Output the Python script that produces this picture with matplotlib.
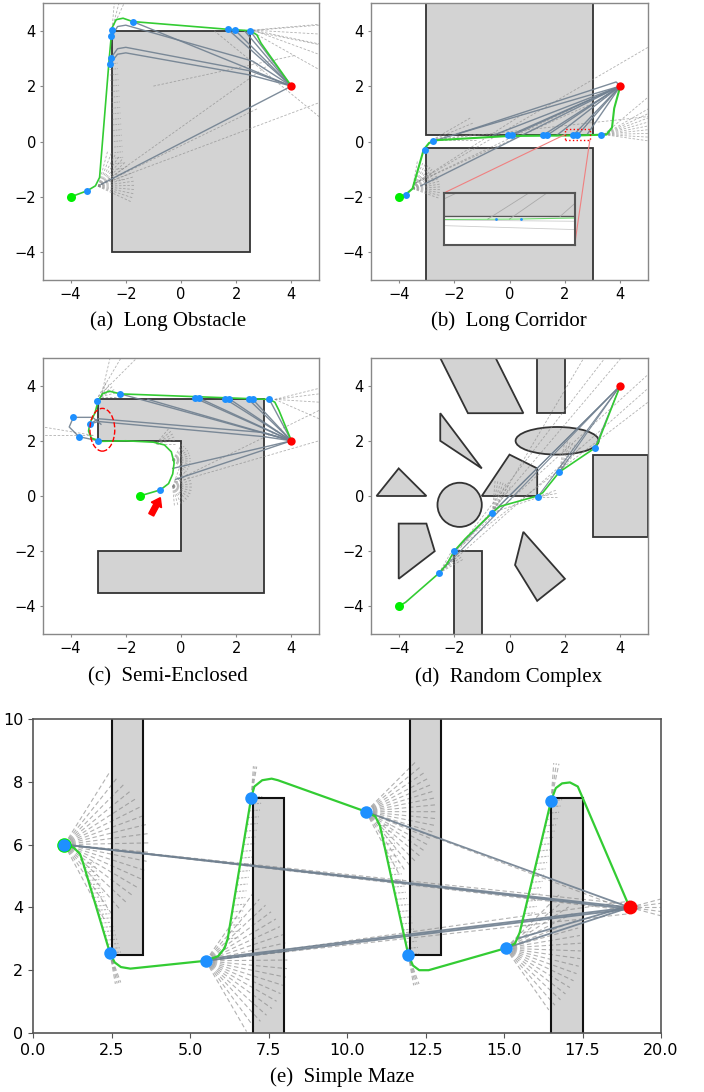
import numpy as np
import matplotlib
matplotlib.use("Agg")
import matplotlib.pyplot as plt
from matplotlib.patches import Polygon, Circle, Ellipse, Rectangle, FancyArrow

# ---------------- data ----------------
# (a) Long Obstacle
obst_a = [[(-2.5, -4), (2.5, -4), (2.5, 4), (-2.5, 4)]]
start_a = (-4, -2)
goal_a = (4, 2)
wp_a_x = [-3.4, -2.57, -2.55, -2.52, -2.5, -1.75, 1.7, 1.95, 2.5]
wp_a_y = [-1.78, 2.8, 3.0, 3.8, 4.02, 4.33, 4.05, 4.03, 4.0]
path_a_x = [-4, -3.4, -3.1, -2.95, -2.6, -2.5, -2.35, -2.1, -1.75, 1.7, 2.5, 2.75, 2.9, 4]
path_a_y = [-2, -1.78, -1.6, -1.3, 3.0, 4.1, 4.4, 4.45, 4.33, 4.05, 4.0, 3.85, 3.55, 2]
plans_a = [
    [(-1.75, 4.33), (4, 2)], [(1.7, 4.05), (4, 2)], [(1.95, 4.03), (4, 2)],
    [(2.5, 4.0), (4, 2)], [(2.3, 4.0), (4, 2)],
    [(-2.5, 3.8), (-2.3, 4.15), (-2.0, 4.2), (2.6, 2.9), (4, 2)],
    [(-2.55, 3.0), (-2.3, 3.35), (-2.0, 3.4), (2.5, 2.55), (4, 2)],
    [(-2.57, 2.8), (-2.3, 3.15), (-2.0, 3.2), (2.5, 2.4), (4, 2)],
    [(-2.9, -1.55), (4, 2)],
]
fans_a = [(-3.0, -1.62, 75, -25, 16, 1.3), (-2.5, 4.05, 85, 65, 3, 1.2),
          (2.6, 4.02, 5, -20, 4, 2.5)]
rays_a = [(-2.9, -1.55, 3.5, 3.0), (-2.9, -1.55, 5, 1.4), (-2.9, -1.55, 2.8, 1.2),
          (1.2, 4.0, 5, 0.9), (2.5, 4.0, 5, 4.2), (2.5, 4.0, 5, 3.5), (2.5, 4.0, 5, 2.6),
          (-1.0, 2.0, 4.1, 3.1)]
walls_a = [(-2.6, 2.8, -2.35, -1.4)]

# (b) Long Corridor
obst_b = [[(-3, 0.25), (3, 0.25), (3, 5.2), (-3, 5.2)], [(-3, -5.2), (3, -5.2), (3, -0.25), (-3, -0.25)]]
start_b = (-4, -2)
goal_b = (4, 2)
wp_b_x = [-3.75, -3.05, -2.75, -0.05, 0.1, 1.2, 1.35, 2.3, 2.45, 3.3]
wp_b_y = [-1.92, -0.3, 0.02, 0.22, 0.22, 0.22, 0.22, 0.22, 0.22, 0.22]
path_b_x = [-4, -3.75, -3.5, -3.3, -3.1, -2.9, -2.6, 0.0, 2.5, 3.5, 3.7, 3.78, 4]
path_b_y = [-2, -1.92, -1.7, -1.0, -0.3, -0.05, 0.05, 0.2, 0.22, 0.25, 0.5, 1.2, 2]
plans_b = [[(-2.75, 0.02), (4, 2)], [(-1.8, 0.3), (3.85, 2.15), (4, 2)], [(0.0, 0.22), (4, 2)],
           [(0.1, 0.22), (4, 2)], [(1.2, 0.22), (4, 2)], [(1.35, 0.22), (4, 2)],
           [(2.3, 0.22), (4, 2)], [(2.45, 0.22), (4, 2)], [(2.8, 0.25), (4, 2)],
           [(1.7, 0.22), (4, 2)], [(-3.2, -1.6), (4, 2)], [(-0.6, 0.22), (4, 2)]]
fans_b = [(-3.5, -1.7, 80, -20, 18, 1.0), (-2.8, 0.05, 30, 0, 5, 1.6), (3.4, 0.25, 30, -8, 9, 2.0)]
rays_b = [(-3.4, -1.5, 5, 3.4), (-3.4, -1.5, 3.5, 1.6), (-3.4, -1.5, 2.3, 1.2),
          (-3.4, -1.5, 0.5, 1.0), (3.4, 0.25, 5, 1.6), (-2.8, 0.05, 5, 0.9)]
zoom_box_b = (2.0, 0.05, 0.9, 0.4)
inset_b = (-2.35, -3.75, 4.7, 1.9)

# (c) Semi-Enclosed
obst_c = [[(-3, 3.5), (3, 3.5), (3, -3.5), (-3, -3.5), (-3, -2), (0, -2), (0, 2), (-3, 2)]]
start_c = (-1.5, 0.0)
goal_c = (4, 2)
wp_c_x = [-0.75, -3.0, -3.05, -3.3, -3.9, -3.7, -2.2, 0.5, 0.65, 1.6, 1.75, 2.45, 2.6, 3.2]
wp_c_y = [0.22, 1.98, 3.45, 2.6, 2.85, 2.15, 3.7, 3.55, 3.55, 3.52, 3.52, 3.5, 3.5, 3.5]
path_c_x = [-1.5, -0.75, -0.45, -0.3, -0.25, -0.35, -0.6, -1.0, -2.0, -2.9, -3.25, -3.35, -3.3,
            -3.12, -3.0, -2.85, -2.6, -2.2, 0.5, 3.2, 3.4, 3.55, 4]
path_c_y = [0.0, 0.22, 0.45, 0.8, 1.2, 1.6, 1.85, 1.95, 2.0, 1.98, 2.1, 2.35, 2.65,
            3.0, 3.45, 3.7, 3.8, 3.7, 3.6, 3.5, 3.4, 3.1, 2]
plans_c = [[(-2.2, 3.7), (4, 2)], [(0.5, 3.55), (4, 2)], [(0.65, 3.55), (4, 2)],
           [(1.6, 3.52), (4, 2)], [(1.75, 3.52), (4, 2)], [(2.45, 3.5), (4, 2)],
           [(2.6, 3.5), (4, 2)], [(3.2, 3.5), (4, 2)], [(-1.2, 3.5), (4, 2)],
           [(-3.3, 2.6), (-3.0, 2.8), (3.0, 2.3), (4, 2)], [(-3.3, 2.6), (-3.0, 2.7), (3.0, 2.15), (4, 2)],
           [(-3.9, 2.85), (-4.05, 2.5), (-3.7, 2.15), (-3.0, 2.0)],
           [(-3.9, 2.85), (-3.2, 2.85), (-2.9, 2.6)],
           [(-0.2, 0.6), (4, 2)], [(-0.3, 1.0), (4, 2)]]
fans_c = [(-0.3, 0.35, 70, -85, 16, 0.75), (-0.3, 1.3, 60, -40, 12, 0.65),
          (-0.9, 1.9, 50, 0, 6, 0.7), (-2.9, 3.6, 70, 0, 6, 0.6)]
rays_c = [(-3.0, 3.6, -2.0, 5.3), (-3.0, 3.6, -1.3, 5.3), (-2.9, 3.6, -2.5, 5.3),
          (-3.2, 2.2, -5.0, 2.5), (-3.2, 2.2, -5.0, 2.2), (3.4, 3.5, 5.0, 3.9),
          (3.4, 3.5, 5.0, 3.7), (3.4, 3.5, 5.0, 3.4), (3.4, 3.5, 5.0, 2.8),
          (-0.2, 0.5, 5.0, 2.0), (-0.1, 0.6, 5.0, 3.1)]
ellipse_c = (-2.85, 2.4, 0.9, 1.55)
arrow_c = (-1.08, -0.68, 0.33, 0.62)

# (d) Random Complex
obst_d = [
    [(-2.5, 5), (-0.5, 5), (0.5, 3), (-1.5, 3)],
    [(1, 3), (2, 3), (2, 5), (1, 5)],
    [(-2.5, 3), (-2.5, 2), (-1, 1)],
    [(-1, 0), (0, 1.5), (1, 1), (1, 0)],
    [(-4.8, 0), (-4, 1), (-3, 0)],
    [(-4, -1), (-3, -1), (-2.7, -2), (-4, -3)],
    [(-2, -2), (-1, -2), (-1, -5.2), (-2, -5.2)],
    [(0.5, -1.3), (0.2, -2.5), (1, -3.8), (2, -3)],
    [(3, -1.5), (5, -1.5), (5, 1.5), (3, 1.5)],
]
circle_d = (-1.8, -0.32, 0.8)
ellipse_d = (1.72, 2.0, 3.0, 1.0)
start_d = (-4, -4)
goal_d = (4, 4)
wp_d_x = [-2.55, -2.0, -0.62, 1.02, 1.8, 3.07]
wp_d_y = [-2.8, -2.0, -0.6, -0.03, 0.87, 1.73]
path_d_x = [-4, -3.75, -2.55, -2.25, -2.0, -1.6, -0.62, -0.35, 1.0, 1.2, 1.8, 3.07, 3.2, 4]
path_d_y = [-4, -3.85, -2.8, -2.45, -2.0, -1.55, -0.6, -0.38, 0.0, 0.12, 0.87, 1.73, 1.95, 4]
plans_d = [[(-2.55, -2.8), (4, 4)], [(-2.0, -2.0), (4, 4)], [(-0.62, -0.6), (4, 4)],
           [(1.02, -0.03), (4, 4)], [(1.8, 0.87), (4, 4)], [(3.07, 1.73), (4, 4)]]
fans_d = [(-2.55, -2.8, 60, 30, 6, 1.0), (-0.62, -0.6, 85, 55, 7, 1.2),
          (1.8, 0.87, 80, 50, 7, 1.2), (1.02, -0.03, 20, 0, 3, 0.7)]
rays_d = [(-2.55, -2.8, 3.6, 5.2), (-2.55, -2.8, 4.2, 5.2), (-2.0, -2.0, 5.0, 4.4),
          (-2.0, -2.0, 5.0, 3.4), (-0.62, -0.6, 2.8, 5.2), (-2.55, -2.8, 5.0, 3.9),
          (-0.62, -0.6, 1.5, 0.1)]

# (e) Simple Maze
obst_e = [[(2.5, 2.5), (3.5, 2.5), (3.5, 10.2), (2.5, 10.2)],
          [(7, -0.2), (8, -0.2), (8, 7.5), (7, 7.5)],
          [(12, 2.5), (13, 2.5), (13, 10.2), (12, 10.2)],
          [(16.5, -0.2), (17.5, -0.2), (17.5, 7.5), (16.5, 7.5)]]
start_e = (1, 6)
goal_e = (19, 4)
wp_e_x = [1.0, 2.45, 5.5, 6.95, 10.6, 11.95, 15.05, 16.5]
wp_e_y = [6.0, 2.55, 2.3, 7.5, 7.05, 2.5, 2.7, 7.4]
path_e_x = [1.0, 1.3, 1.5, 1.6, 2.45, 2.6, 2.8, 3.1, 5.5, 5.9, 6.1, 6.2, 6.95, 7.05, 7.3,
            7.6, 7.8, 10.6, 10.9, 11.05, 11.95, 12.1, 12.3, 12.6, 15.05, 15.35, 15.5,
            16.5, 16.65, 16.85, 17.1, 17.35, 17.5, 19.0]
path_e_y = [6.0, 5.9, 5.7, 5.4, 2.55, 2.25, 2.1, 2.05, 2.3, 2.45, 2.7, 3.0, 7.5, 7.85, 8.05,
            8.1, 8.05, 7.05, 6.9, 6.6, 2.5, 2.15, 2.0, 2.0, 2.7, 2.85, 3.2,
            7.4, 7.8, 7.95, 7.98, 7.85, 7.5, 4.0]
plans_e = [[(1.0, 6.0), (19, 4)], [(1.0, 6.0), (19, 3.95)], [(5.5, 2.35), (19, 4)],
           [(5.5, 2.3), (19, 3.95)], [(10.6, 7.05), (19, 4)], [(15.05, 2.7), (19, 4)],
           [(15.4, 3.0), (19, 4.05)]]
fans_e = [(1.0, 6.0, 58, -62, 20, 2.7), (5.5, 2.3, 55, -60, 20, 2.6),
          (10.6, 7.05, 45, -62, 20, 2.3), (15.05, 2.7, 45, -55, 18, 2.4),
          (2.45, 2.55, -70, -80, 4, 1.0), (11.95, 2.5, -70, -80, 4, 1.0),
          (6.95, 7.5, 80, 86, 3, 1.0), (16.5, 7.4, 78, 86, 3, 1.2),
          (19.0, 4.0, 15, -15, 5, 1.2)]
rays_e = [(1.0, 6.0, 19, 4.1), (1.0, 6.0, 19, 3.9), (5.5, 2.3, 19, 4.2),
          (5.5, 2.3, 19, 3.8), (10.6, 7.05, 19, 3.9)]
walls_e = [(1.6, 5.4, 2.45, 2.55), (6.2, 3.0, 6.95, 7.5), (11.05, 6.6, 11.95, 2.5),
           (15.5, 3.2, 16.5, 7.4)]

captions = ["(a)  Long Obstacle", "(b)  Long Corridor", "(c)  Semi-Enclosed",
            "(d)  Random Complex", "(e)  Simple Maze"]

# ---------------- style ----------------
OBST_FC = "#d3d3d3"
OBST_EC = "#333333"
GREEN = "#33cc33"
BLUE = "#1e90ff"
PLAN = "#708090"
RAY = "#888888"

W, H = 704, 1092
fig = plt.figure(figsize=(W / 100, H / 100), dpi=100)


def ax_at(l, t, r, b):
    return fig.add_axes([l / W, 1 - b / H, (r - l) / W, (b - t) / H])


def draw_common(ax, obst, start, goal, wpx, wpy, px, py, plans, fans, rays,
                ms=5, lw=1.2, rays_lw=0.6, plan_lw=1.0, walls=(), wall_len=0.3,
                start_z=5.5, dash=(0, (3, 2))):
    for poly in obst:
        ax.add_patch(Polygon(poly, closed=True, fc=OBST_FC, ec=OBST_EC, lw=1.3, zorder=1))
    for (x0, y0, a0, a1, n, L) in fans:
        for a in np.radians(np.linspace(a0, a1, n)):
            ax.plot([x0, x0 + L * np.cos(a)], [y0, y0 + L * np.sin(a)], ls=dash,
                    color=RAY, lw=rays_lw, alpha=0.65, zorder=2)
    for (x0, y0, x1, y1) in rays:
        ax.plot([x0, x1], [y0, y1], ls=dash, color=RAY, lw=rays_lw, alpha=0.65, zorder=2)
    for (x0, y0, x1, y1) in walls:
        for t in np.linspace(0, 1, 22):
            xs = x0 + t * (x1 - x0)
            ys = y0 + t * (y1 - y0)
            ax.plot([xs, xs + wall_len], [ys, ys + 0.03], ls=(0, (2, 1)), color=RAY,
                    lw=rays_lw, alpha=0.6, zorder=2)
    for pl in plans:
        xs, ys = zip(*pl)
        ax.plot(xs, ys, color=PLAN, lw=plan_lw, alpha=0.9, zorder=3)
    ax.plot(px, py, color=GREEN, lw=lw, zorder=4)
    ax.plot(*start, 'o', color="#00ee00", ms=ms + 1.5, zorder=start_z, mec='none')
    ax.plot(wpx, wpy, 'o', color=BLUE, ms=ms, zorder=5, mec='none')
    ax.plot(*goal, 'o', color="red", ms=ms + 1, zorder=6, mec='none')


def style_small(ax):
    ax.set_xlim(-5, 5)
    ax.set_ylim(-5, 5)
    ax.set_xticks([-4, -2, 0, 2, 4])
    ax.set_yticks([-4, -2, 0, 2, 4])
    ax.tick_params(labelsize=10.5, color="#888888", length=2.5, pad=2.5)
    for s in ax.spines.values():
        s.set_color("#888888")
        s.set_linewidth(1.0)


cap_font = dict(family="Liberation Serif", fontsize=15, ha="center", va="center")

# (a)
ax = ax_at(43, 3, 319, 280)
draw_common(ax, obst_a, start_a, goal_a, wp_a_x, wp_a_y, path_a_x, path_a_y, plans_a,
            fans_a, rays_a, walls=walls_a)
style_small(ax)
fig.text(168 / W, 1 - 321 / H, captions[0], **cap_font)

# (b)
ax = ax_at(371, 3, 648, 280)
draw_common(ax, obst_b, start_b, goal_b, wp_b_x, wp_b_y, path_b_x, path_b_y, plans_b,
            fans_b, rays_b, lw=1.5)
style_small(ax)
bx, by, bw, bh = zoom_box_b
ax.add_patch(Rectangle((bx, by), bw, bh, fill=False, ec="red", ls=":", lw=1.0, zorder=7))
ix, iy, iw, ih = inset_b
ax.plot([bx, ix], [by + bh / 2, iy + ih], color="#f08080", lw=0.8, zorder=7)
ax.plot([bx + bw, ix + iw], [by, iy], color="#f08080", lw=0.8, zorder=7)
ins = ax.inset_axes([ix, iy, iw, ih], transform=ax.transData, zorder=8)
ins.add_patch(Rectangle((1.5, 0.25), 2.0, 1.0, fc=OBST_FC, ec="#555555", lw=1.0))
for pl in plans_b[5:10]:
    xs, ys = zip(*pl)
    ins.plot(xs, ys, color="#aaaaaa", lw=0.6)
ins.plot([1.9, 2.9], [0.21, 0.195], color="#cccccc", lw=0.6)
ins.plot([1.9, 2.9], [0.15, 0.1], color="#cccccc", lw=0.6)
ins.plot(path_b_x, path_b_y, color=GREEN, lw=0.8, alpha=0.7)
ins.plot([2.36, 2.53], [0.22, 0.22], 'o', color=BLUE, ms=2, mec='none')
ins.set_xlim(2.0, 2.9)
ins.set_ylim(-0.08, 0.52)
ins.set_xticks([])
ins.set_yticks([])
for s in ins.spines.values():
    s.set_color("#555555")
    s.set_linewidth(1.5)
fig.text(509 / W, 1 - 321 / H, captions[1], **cap_font)

# (c)
ax = ax_at(43, 358, 319, 634)
draw_common(ax, obst_c, start_c, goal_c, wp_c_x, wp_c_y, path_c_x, path_c_y, plans_c,
            fans_c, rays_c)
ex, ey, ew, eh = ellipse_c
ax.add_patch(Ellipse((ex, ey), ew, eh, fill=False, ec="red", ls="--", lw=1.0, zorder=7))
axx, axy, adx, ady = arrow_c
ax.add_patch(FancyArrow(axx, axy, adx, ady, width=0.2, head_width=0.42, head_length=0.3,
                        color="red", zorder=7, length_includes_head=True))
style_small(ax)
fig.text(168 / W, 1 - 677 / H, captions[2], **cap_font)

# (d)
ax = ax_at(371, 358, 648, 634)
cx, cy, cr = circle_d
ax.add_patch(Circle((cx, cy), cr, fc=OBST_FC, ec=OBST_EC, lw=1.3, zorder=1))
ex, ey, ew, eh = ellipse_d
ax.add_patch(Ellipse((ex, ey), ew, eh, fc=OBST_FC, ec=OBST_EC, lw=1.3, zorder=1))
draw_common(ax, obst_d, start_d, goal_d, wp_d_x, wp_d_y, path_d_x, path_d_y, plans_d,
            fans_d, rays_d, plan_lw=0.8)
style_small(ax)
fig.text(509 / W, 1 - 677 / H, captions[3], **cap_font)

# (e)
ax = ax_at(33, 719, 661, 1033)
draw_common(ax, obst_e, start_e, goal_e, wp_e_x, wp_e_y, path_e_x, path_e_y, plans_e,
            fans_e, rays_e, ms=9, lw=1.6, rays_lw=0.8, plan_lw=1.3, walls=walls_e,
            wall_len=0.35, start_z=4.5, dash=(0, (4, 2.5)))
for poly in obst_e:
    ax.add_patch(Polygon(poly, closed=True, fill=False, ec="#111111", lw=1.5, zorder=2.5))
ax.set_xlim(0, 20)
ax.set_ylim(0, 10)
ax.set_xticks([0, 2.5, 5, 7.5, 10, 12.5, 15, 17.5, 20])
ax.set_yticks([0, 2, 4, 6, 8, 10])
ax.tick_params(labelsize=11.5, color="#555555", length=3.5)
for s in ax.spines.values():
    s.set_color("#555555")
    s.set_linewidth(1.2)
fig.text(342 / W, 1 - 1077 / H, captions[4], **cap_font)

fig.savefig("out.png", dpi=100)
